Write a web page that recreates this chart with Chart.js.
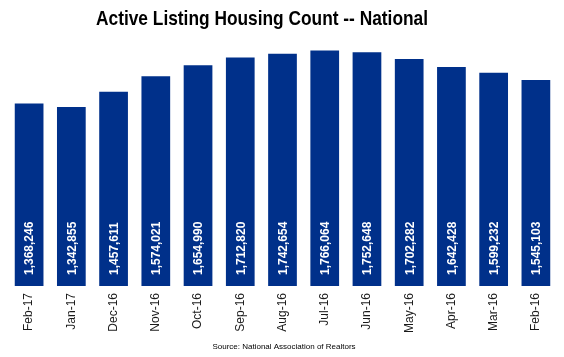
<!DOCTYPE html>
<html>
<head>
<meta charset="utf-8">
<script src="https://cdn.jsdelivr.net/npm/chart.js@4/dist/chart.umd.min.js"></script>
<style>
html,body{margin:0;padding:0;background:#fff;}
#wrap{width:564px;height:357px;position:relative;}
</style>
</head>
<body>
<div id="wrap"><canvas id="c" width="564" height="357"></canvas></div>
<script>
const titleText = "Active Listing Housing Count -- National";
const sourceText = "Source: National Association of Realtors";
const categories = ["Feb-17","Jan-17","Dec-16","Nov-16","Oct-16","Sep-16","Aug-16","Jul-16","Jun-16","May-16","Apr-16","Mar-16","Feb-16"];
const listings = [1368246,1342855,1457611,1574021,1654990,1712820,1742654,1766064,1752648,1702282,1642428,1599232,1545103];

const barColor = "#00308A";

const overlay = {
  id: "overlay",
  afterDatasetsDraw(chart) {
    const ctx = chart.ctx;
    const meta = chart.getDatasetMeta(0);
    const base = chart.chartArea.bottom;
    ctx.save();
    ctx.fillStyle = "#ffffff";
    ctx.font = "bold 12px 'Liberation Sans', Arial, sans-serif";
    ctx.textAlign = "left";
    ctx.textBaseline = "middle";
    meta.data.forEach((bar, i) => {
      ctx.save();
      ctx.translate(bar.x + 1, base - 11);
      ctx.rotate(-Math.PI / 2);
      ctx.fillText(listings[i].toLocaleString("en-US"), 0, 0);
      ctx.restore();
    });
    ctx.restore();
  },
  afterDraw(chart) {
    const ctx = chart.ctx;
    ctx.save();
    ctx.fillStyle = "#000000";
    ctx.font = "bold 21px 'Liberation Sans', Arial, sans-serif";
    ctx.textAlign = "center";
    ctx.textBaseline = "alphabetic";
    const w = ctx.measureText(titleText).width;
    const sx = 332 / w;
    ctx.translate(262, 25);
    ctx.scale(sx, 1);
    ctx.fillText(titleText, 0, 0);
    ctx.restore();

    ctx.save();
    ctx.fillStyle = "#000000";
    ctx.font = "8px 'Liberation Sans', Arial, sans-serif";
    ctx.textAlign = "center";
    ctx.textBaseline = "middle";
    ctx.fillText(sourceText, 284, 347);
    ctx.restore();
  }
};

new Chart(document.getElementById("c"), {
  type: "bar",
  data: {
    labels: categories,
    datasets: [{
      data: listings,
      backgroundColor: barColor,
      borderWidth: 0,
      barPercentage: 0.68,
      categoryPercentage: 1.0
    }]
  },
  options: {
    responsive: false,
    animation: false,
    layout: { padding: { top: 46, left: 8, right: 7, bottom: 21 } },
    plugins: {
      legend: { display: false },
      title: { display: false },
      tooltip: { enabled: false }
    },
    scales: {
      x: {
        grid: { display: false, drawTicks: false },
        border: { display: false },
        ticks: {
          color: "#1a1a1a",
          font: { family: "'Liberation Sans', Arial, sans-serif", size: 12 },
          minRotation: 90,
          maxRotation: 90,
          padding: 7,
          autoSkip: false
        },
        afterFit(scale) { scale.height = 50; }
      },
      y: {
        display: false,
        min: 0,
        max: 1800000
      }
    }
  },
  plugins: [overlay]
});
</script>
</body>
</html>
